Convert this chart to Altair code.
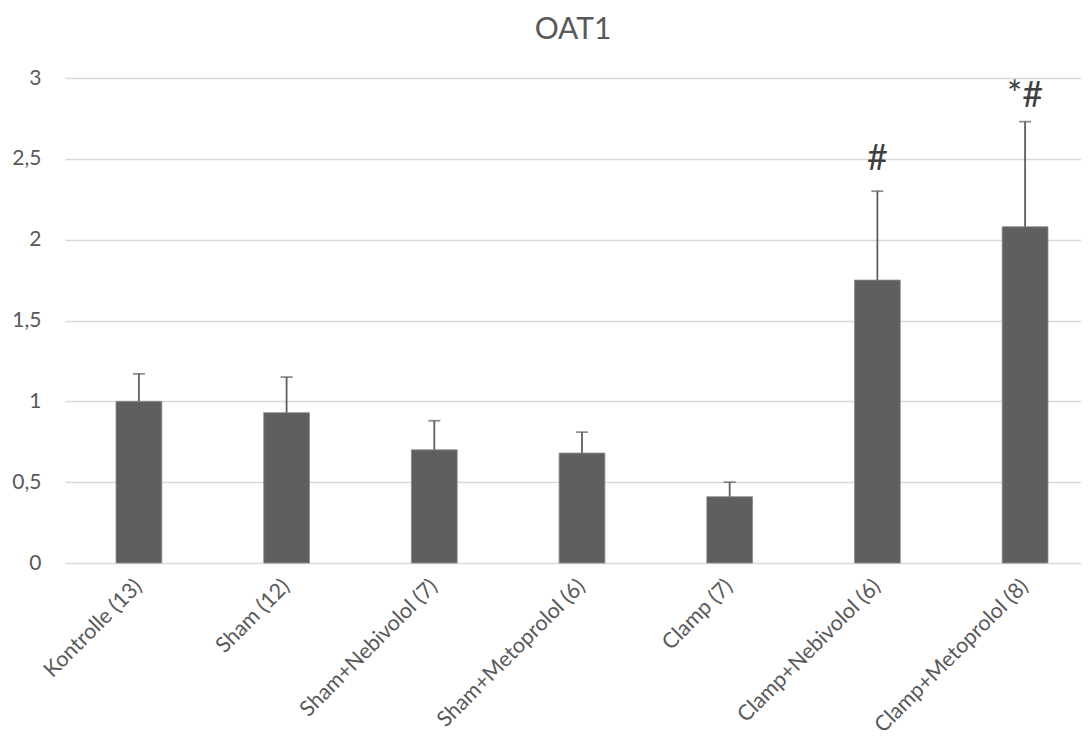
import altair as alt
import pandas as pd

categories = ["Kontrolle (13)", "Sham (12)", "Sham+Nebivolol (7)", "Sham+Metoprolol (6)",
              "Clamp (7)", "Clamp+Nebivolol (6)", "Clamp+Metoprolol (8)"]
means = [1.00, 0.93, 0.70, 0.68, 0.41, 1.75, 2.08]
err_top = [1.17, 1.15, 0.88, 0.81, 0.50, 2.30, 2.73]
annotations = ["", "", "", "", "", "#", "*#"]
annotation_y = [None, None, None, None, None, 2.43, 2.82]

df = pd.DataFrame({"cat": categories, "mean": means, "err": err_top,
                   "ann": annotations, "ann_y": annotation_y})

FONT = "Lato"
GREY = "#595959"

x_scale = alt.Scale(paddingInner=0.69, paddingOuter=0.2845, align=0.607)
x = alt.X("cat:N", sort=categories, title=None, scale=x_scale,
          axis=alt.Axis(labelAngle=-45, labelAlign="right", labelBaseline="middle",
                        labelPadding=20, ticks=False, tickSize=0, domain=False,
                        labelFontSize=21.5, labelColor=GREY, labelFont=FONT, grid=False,
                        labelLimit=400))
y_scale = alt.Scale(domain=[0, 3], nice=False)

bars = alt.Chart(df).mark_bar(color="#5f5f5f", stroke="#8c8c8c", strokeWidth=0.8).encode(
    x=x,
    y=alt.Y("mean:Q", scale=y_scale, title=None,
            axis=alt.Axis(values=[0, 0.5, 1, 1.5, 2, 2.5, 3],
                          labelExpr="replace(format(datum.value, '.1~f'), '.', ',')",
                          ticks=False, tickSize=0, domain=False, labelFontSize=21,
                          labelColor=GREY, labelFont=FONT, labelPadding=24,
                          gridColor="#d9d9d9", gridWidth=1.3)),
)

rules = alt.Chart(df).mark_rule(color="#5f5f5f", strokeWidth=1.8).encode(
    x=alt.X("cat:N", sort=categories), y="mean:Q", y2="err:Q")

caps = alt.Chart(df).mark_tick(color="#5f5f5f", thickness=1.8, size=12).encode(
    x=alt.X("cat:N", sort=categories), y="err:Q")

texts = alt.Chart(df).transform_filter("datum.ann != ''").mark_text(
    font=FONT, fontSize=36, color="#404040", baseline="alphabetic").encode(
    x=alt.X("cat:N", sort=categories), y="ann_y:Q", text="ann:N")

chart = alt.layer(bars, rules, caps, texts).properties(
    width=1016, height=485,
    title=alt.TitleParams("OAT1", fontSize=30, font=FONT, color=GREY,
                          fontWeight="normal", offset=22),
    autosize=alt.AutoSizeParams(type="none"),
    padding={"left": 57, "top": 70, "right": 0, "bottom": 174},
).configure_view(stroke=None)

chart.save("out.html", embed_options={"renderer": "svg", "actions": False})
